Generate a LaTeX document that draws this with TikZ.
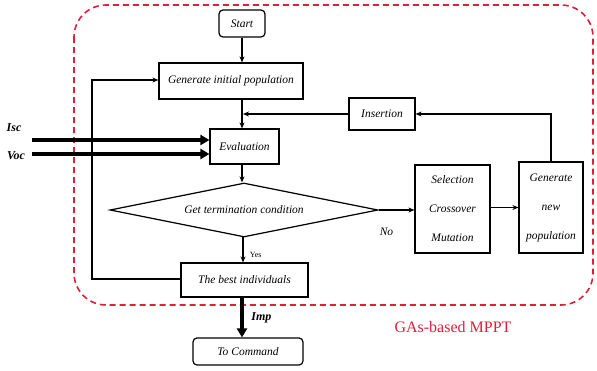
\documentclass[tikz,border=0pt]{standalone}
\usepackage{fontspec}
\setmainfont{Liberation Serif}
\usetikzlibrary{shapes.geometric,arrows.meta}
\definecolor{gared}{RGB}{225,30,55}
\begin{document}
\begin{tikzpicture}[x=1pt,y=-1pt,
  box/.style={draw,line width=1.2pt,inner sep=0pt,font=\fontsize{11.5}{13}\selectfont\itshape,align=center},
  rbox/.style={box,rounded corners=4pt},
  conn/.style={line width=1.1pt,-{Stealth[length=6pt,width=5pt]}},
  thick arrow/.style={line width=4pt,-{Triangle[length=9pt,width=10pt]}},
  lbl/.style={font=\fontsize{12}{14}\selectfont\bfseries\itshape}
]
\useasboundingbox (0,0) rectangle (597,370);
% red dashed region
\draw[gared,line width=1.6pt,dash pattern=on 6pt off 4pt,rounded corners=32pt] (74,5) rectangle (593,305);
\node[text=gared,font=\fontsize{16}{18}\selectfont] (mppt) at (453,327) {GAs-based MPPT};

\node[rbox,minimum width=46,minimum height=27] (start) at (242,23.5) {Start};
\node[box,minimum width=144,minimum height=36] (gen) at (231,81) {Generate initial population};
\node[box,minimum width=69,minimum height=35] (eval) at (244.5,146.5) {Evaluation};
\node[box,minimum width=66,minimum height=32] (ins) at (382,114) {Insertion};
\node[box,draw,shape=diamond,minimum width=268,minimum height=54,shape aspect=5] (cond) at (244,210) {Get termination condition};
\node[box,minimum width=75,minimum height=88,font=\fontsize{11.5}{29}\selectfont\itshape] (sel) at (452.5,209) {Selection\\Crossover\\Mutation};
\node[box,minimum width=64,minimum height=91,font=\fontsize{11.5}{29}\selectfont\itshape] (newpop) at (551,207.5) {Generate\\new\\population};
\node[box,minimum width=127,minimum height=34] (best) at (244.5,280) {The best individuals};
\node[rbox,minimum width=110,minimum height=27] (cmd) at (248,351.5) {To Command};

% connectors
\draw[conn] (start.south) -- (start.south |- gen.north);
\draw[conn] (gen.south -| start.south) -- (start.south |- eval.north);
\draw[conn] (eval.south -| start.south) -- (start.south |- cond.north);
\coordinate (yesS) at (243,237);
\draw[conn] (yesS) -- (yesS |- best.north) node[pos=0.7,right=3pt,font=\fontsize{8}{9}\selectfont] (yes) {Yes};
\draw[conn] (cond.east) -- (cond.east -| sel.west) node[pos=0.22,below=14pt,font=\fontsize{11.5}{13}\selectfont\itshape] (no) {No};
\draw[conn] (sel.east |- newpop.west) -- (newpop.west);
\coordinate (insC) at (551,114);
\draw[conn] (newpop.north) -- (insC) -- (ins.east);
\coordinate (joinC) at (243,114);
\draw[conn] (ins.west) -- (joinC);
\coordinate (loopB) at (92,279);
\coordinate (loopT) at (92,80);
\draw[conn] (best.west |- loopB) -- (loopB) -- (loopT) -- (loopT -| gen.west);
% inputs
\coordinate (iscS) at (32,140);
\coordinate (vocS) at (32,154);
\draw[thick arrow] (iscS) -- (iscS -| eval.west);
\draw[thick arrow] (vocS) -- (vocS -| eval.west);
\node[lbl] (isc) at (14,128) {Isc};
\node[lbl] (voc) at (16,156) {Voc};
% output
\draw[thick arrow] (best.south -| start.south) -- (start.south |- cmd.north) node[midway,right=4pt,lbl] (imp) {Imp};
\end{tikzpicture}
\end{document}
